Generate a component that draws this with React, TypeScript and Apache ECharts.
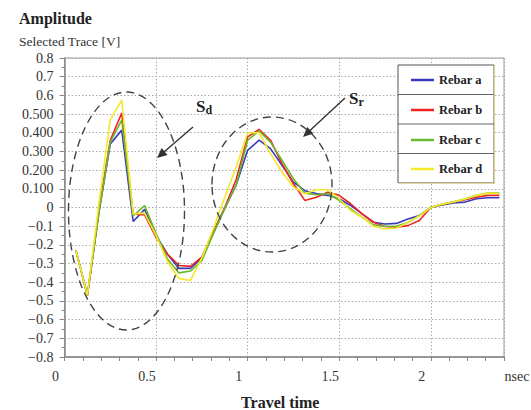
import React, { useEffect, useRef } from 'react';
import * as echarts from 'echarts';

const times = [0.0625, 0.125, 0.1875, 0.25, 0.3125, 0.375, 0.4375, 0.5, 0.5625, 0.625, 0.6875, 0.75, 0.8125, 0.875, 0.9375, 1.0, 1.0625, 1.125, 1.1875, 1.25, 1.3125, 1.375, 1.4375, 1.5, 1.5625, 1.625, 1.6875, 1.75, 1.8125, 1.875, 1.9375, 2.0, 2.0625, 2.125, 2.1875, 2.25, 2.3125, 2.375];

const rebarA = [-0.23, -0.47, -0.03, 0.34, 0.414, -0.075, -0.01, -0.15, -0.25, -0.326, -0.326, -0.27, -0.14, -0.005, 0.12, 0.306, 0.36, 0.315, 0.226, 0.136, 0.09, 0.075, 0.065, 0.047, 0.011, -0.034, -0.079, -0.088, -0.085, -0.061, -0.043, 0.0, 0.014, 0.024, 0.029, 0.047, 0.052, 0.052];
const rebarB = [-0.23, -0.47, -0.02, 0.36, 0.505, -0.035, -0.04, -0.16, -0.25, -0.31, -0.315, -0.265, -0.13, 0.0, 0.15, 0.378, 0.418, 0.36, 0.235, 0.127, 0.038, 0.055, 0.082, 0.065, 0.02, -0.034, -0.079, -0.102, -0.105, -0.097, -0.07, 0.0, 0.016, 0.029, 0.041, 0.055, 0.065, 0.065];
const rebarC = [-0.23, -0.47, -0.03, 0.35, 0.467, -0.045, 0.01, -0.14, -0.275, -0.35, -0.34, -0.285, -0.14, -0.005, 0.12, 0.36, 0.41, 0.35, 0.253, 0.154, 0.077, 0.068, 0.075, 0.038, -0.007, -0.052, -0.093, -0.1, -0.1, -0.08, -0.043, 0.0, 0.018, 0.03, 0.045, 0.065, 0.077, 0.077];
const rebarD = [-0.23, -0.47, 0.02, 0.47, 0.575, -0.035, -0.03, -0.15, -0.29, -0.38, -0.39, -0.27, -0.115, 0.055, 0.217, 0.4, 0.4, 0.288, 0.19, 0.11, 0.073, 0.095, 0.095, 0.047, -0.016, -0.052, -0.1, -0.115, -0.11, -0.08, -0.045, 0.0, 0.018, 0.03, 0.045, 0.065, 0.077, 0.075];

const seriesNames = ['Rebar a', 'Rebar b', 'Rebar c', 'Rebar d'];
const seriesValues = [rebarA, rebarB, rebarC, rebarD];
const seriesColors = ['#3a3abf', '#ee2424', '#6cb82c', '#f4e82a'];

const titleText = 'Amplitude';
const subtitleText = 'Selected Trace [V]';
const xAxisName = 'Travel time';
const xUnit = 'nsec';

const SERIF = 'Liberation Serif, DejaVu Serif, serif';

function arrowGraphics(x1: number, y1: number, x2: number, y2: number) {
  const ang = Math.atan2(y2 - y1, x2 - x1);
  const L = 10;
  const W = 4.5;
  const c = Math.cos(ang);
  const s = Math.sin(ang);
  const bx = x2 - L * c;
  const by = y2 - L * s;
  return [
    {
      type: 'line',
      shape: { x1, y1, x2: bx + 2 * c, y2: by + 2 * s },
      style: { stroke: '#333', lineWidth: 1.4 },
      z: 100,
    },
    {
      type: 'polygon',
      shape: {
        points: [
          [x2, y2],
          [bx + W * s, by - W * c],
          [bx - W * s, by + W * c],
        ],
      },
      style: { fill: '#333' },
      z: 100,
    },
  ];
}

export default function App() {
  const ref = useRef<HTMLDivElement>(null);

  useEffect(() => {
    if (!ref.current) return;
    const chart = echarts.init(ref.current, undefined, { renderer: 'svg' });

    const rowCenters = [75, 105, 135, 164];

    const option: any = {
      animation: false,
      backgroundColor: '#fff',
      textStyle: { fontFamily: SERIF },
      title: {
        text: titleText,
        subtext: subtitleText,
        left: 14,
        top: 5,
        itemGap: 8,
        textStyle: { fontFamily: SERIF, fontWeight: 'bold', fontSize: 16, color: '#222' },
        subtextStyle: { fontFamily: SERIF, fontSize: 13.5, color: '#333' },
      },
      grid: {
        left: 64.5,
        right: 27,
        top: 58,
        bottom: 53,
        outerBoundsMode: 'none',
        containLabel: false,
        show: true,
        borderColor: '#999',
        borderWidth: 1,
        backgroundColor: 'transparent',
      },
      legend: seriesNames.map((n, i) => ({
        data: [n],
        orient: 'vertical',
        left: 406,
        top: rowCenters[i] - 8,
        icon: 'rect',
        itemWidth: 23,
        itemHeight: 2.5,
        itemGap: 0,
        selectedMode: false,
        z: 80,
        textStyle: { fontFamily: SERIF, fontWeight: 'bold', fontSize: 12.5, color: '#222', lineHeight: 16 },
      })),
      xAxis: [
        {
          type: 'value',
          min: 0,
          max: 2.4,
          interval: 0.5,
          name: xAxisName,
          nameLocation: 'middle',
          nameGap: 37,
          nameTextStyle: { fontFamily: SERIF, fontWeight: 'bold', fontSize: 16, color: '#222', padding: [0, 8, 0, 0] },
          axisLine: { show: true, onZero: false, lineStyle: { color: '#888', width: 1.5 } },
          axisTick: { show: false },
          splitLine: { show: true, lineStyle: { color: '#aaa', type: [1.5, 2], width: 1 } },
          axisLabel: {
            show: true,
            showMinLabel: true,
            showMaxLabel: true,
            margin: 12,
            fontFamily: SERIF,
            fontSize: 14,
            color: '#333',
            padding: [0, 18, 0, 0],
            formatter: (v: number) => (Math.abs(v - 2.4) < 1e-6 ? '{u|' + xUnit + '}' : String(v)),
            rich: { u: { fontFamily: SERIF, fontSize: 14, color: '#333', padding: [0, 0, 0, 44] } },
          },
        },
        {
          type: 'value',
          min: 0,
          max: 2.4,
          interval: 0.1,
          position: 'bottom',
          axisLine: { show: false, onZero: false },
          axisTick: { show: true, length: 4, lineStyle: { color: '#888', width: 1 } },
          axisLabel: { show: false },
          splitLine: { show: false },
        },
      ],
      yAxis: {
        type: 'value',
        min: -0.8,
        max: 0.8,
        interval: 0.1,
        axisLine: { show: true, onZero: false, lineStyle: { color: '#888', width: 1.5 } },
        axisTick: { show: true, length: 5, lineStyle: { color: '#888' } },
        minorTick: { show: true, splitNumber: 2, length: 3, lineStyle: { color: '#888' } },
        splitLine: { show: true, lineStyle: { color: '#aaa', type: [1.5, 2], width: 1 } },
        axisLabel: {
          margin: 11,
          fontFamily: SERIF,
          fontSize: 14,
          color: '#333',
          formatter: (v: number) => {
            const r = Math.round(v * 10) / 10;
            if (r === 0) return '0';
            if (r > 0 && r <= 0.5) return r.toFixed(3);
            if (r < 0) return '\u2212' + Math.abs(r).toFixed(1);
            return r.toFixed(1);
          },
        },
      },
      series: seriesNames.map((n, i) => ({
        name: n,
        type: 'line',
        xAxisIndex: 0,
        data: times.map((t, k) => [t, seriesValues[i][k]]),
        showSymbol: false,
        symbol: 'none',
        lineStyle: { color: seriesColors[i], width: 1.6 },
        itemStyle: { color: seriesColors[i] },
        z: 3 + i,
      })),
      graphic: [
        {
          type: 'rect',
          shape: { x: 398, y: 65, width: 96, height: 118 },
          style: { fill: '#fff', stroke: '#555', lineWidth: 1 },
          z: 50,
        },
        { type: 'line', shape: { x1: 494.5, y1: 65, x2: 494.5, y2: 183.5 }, style: { stroke: '#e0d890', lineWidth: 1.2 }, z: 51 },
        { type: 'line', shape: { x1: 398, y1: 183.5, x2: 495, y2: 183.5 }, style: { stroke: '#e0d890', lineWidth: 1.2 }, z: 51 },
        { type: 'line', shape: { x1: 398, y1: 94.5, x2: 494, y2: 94.5 }, style: { stroke: '#666', lineWidth: 1 }, z: 51 },
        { type: 'line', shape: { x1: 398, y1: 124, x2: 494, y2: 124 }, style: { stroke: '#666', lineWidth: 1 }, z: 51 },
        { type: 'line', shape: { x1: 398, y1: 153.5, x2: 494, y2: 153.5 }, style: { stroke: '#666', lineWidth: 1 }, z: 51 },
        {
          type: 'ellipse',
          shape: { cx: 126.5, cy: 211, rx: 58, ry: 119 },
          style: { fill: 'none', stroke: '#444', lineWidth: 1.4, lineDash: [8, 5] },
          z: 90,
        },
        {
          type: 'ellipse',
          shape: { cx: 272, cy: 184.5, rx: 60, ry: 67.5 },
          style: { fill: 'none', stroke: '#444', lineWidth: 1.4, lineDash: [8, 5] },
          z: 90,
        },
        ...arrowGraphics(193, 127, 157, 158),
        ...arrowGraphics(345, 98, 303, 137),
        {
          type: 'text',
          x: 196,
          y: 96,
          style: {
            text: '{s|S}{sub|d}',
            rich: {
              s: { fontFamily: SERIF, fontWeight: 'bold', fontSize: 17, fill: '#222' },
              sub: { fontFamily: SERIF, fontWeight: 'bold', fontSize: 12, fill: '#222', padding: [8, 0, 0, 0] },
            },
          },
          z: 100,
        },
        {
          type: 'text',
          x: 349,
          y: 88,
          style: {
            text: '{s|S}{sub|r}',
            rich: {
              s: { fontFamily: SERIF, fontWeight: 'bold', fontSize: 17, fill: '#222' },
              sub: { fontFamily: SERIF, fontWeight: 'bold', fontSize: 12, fill: '#222', padding: [8, 0, 0, 0] },
            },
          },
          z: 100,
        },
      ],
    };

    chart.setOption(option);
    return () => chart.dispose();
  }, []);

  return <div ref={ref} style={{ position: 'fixed', left: 0, top: 0, width: 531, height: 410 }} />;
}
